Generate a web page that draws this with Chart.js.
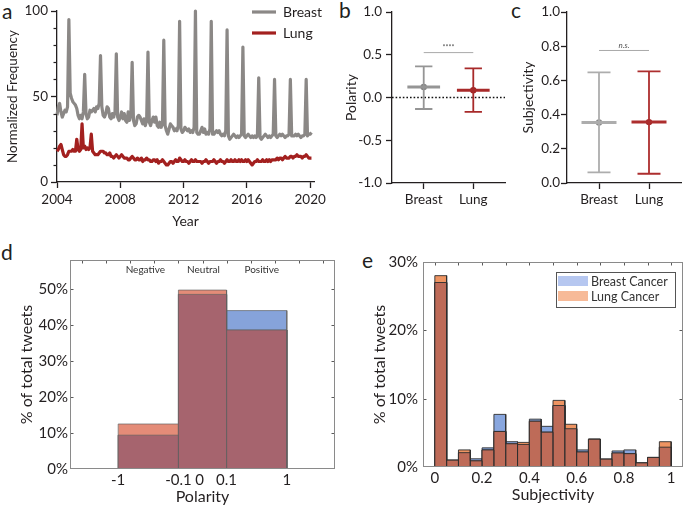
<!DOCTYPE html>
<html><head><meta charset="utf-8">
<script src="https://cdn.jsdelivr.net/npm/chart.js@4.4.1/dist/chart.umd.min.js"></script>
<style>
html,body{margin:0;padding:0;background:#fff;}
body{width:685px;height:505px;position:relative;overflow:hidden;font-family:Lato,sans-serif;}
canvas{position:absolute;}
.L{position:absolute;font:21px/1 Lato,sans-serif;color:#231f20;}
</style></head><body>
<div class="L" style="left:2px;top:0px">a</div>
<div class="L" style="left:339px;top:-1px">b</div>
<div class="L" style="left:511px;top:-1px">c</div>
<div class="L" style="left:1px;top:241px">d</div>
<div class="L" style="left:362px;top:249px">e</div>
<canvas id="ca" width="330" height="235" style="left:0;top:0"></canvas>
<canvas id="cb" width="190" height="215" style="left:320px;top:0"></canvas>
<canvas id="cc" width="175" height="215" style="left:510px;top:0"></canvas>
<canvas id="cd" width="340" height="261" style="left:0;top:245px"></canvas>
<canvas id="ce" width="345" height="261" style="left:340px;top:245px"></canvas>
<script>
// ---------------- DATA ----------------
// panel a: monthly normalized search frequency, Jan 2004 - Feb 2020
const startYear = 2004;
const yearTicks = [2004, 2008, 2012, 2016, 2020];
const freqTicks = [0, 50, 100];
const freqMinor = [10, 20, 30, 40, 60, 70, 80, 90];
const breastFreq = [
 39,44,46,41,38,40,42,41,44,95,52,49,
 47,46,45,43,39,37,39,37,41,63,40,37,
 38,42,41,42,43,41,44,43,46,74,44,39,
 38,40,44,43,38,37,40,38,41,75,38,36,
 38,41,37,40,36,35,41,36,39,70,36,33,
 34,38,39,38,36,34,37,33,36,76,35,33,
 36,38,35,38,33,32,35,32,34,83,33,30,
 28,31,34,33,32,30,31,30,33,94,31,29,
 30,32,31,30,31,29,30,29,32,100,29,28,
 28,30,32,29,31,28,29,28,31,94,28,28,
 29,30,29,30,28,27,28,27,30,89,27,25,
 26,27,28,27,26,27,26,27,28,79,27,26,
 27,28,27,26,27,26,27,26,27,61,26,25,
 26,27,28,27,26,27,26,27,28,60,27,26,
 27,28,27,28,27,26,27,27,28,60,27,27,
 27,28,27,28,27,26,27,27,28,60,27,28,
 28,29];
const lungFreq = [
 18,19,21,22,19,16,15,15,16,18,18,18,
 19,18,18,25,19,18,19,34,20,21,19,20,
 19,20,28,18,17,16,16,16,17,18,18,18,
 17,17,16,16,17,15,15,14,15,16,15,14,
 15,16,15,14,14,14,13,13,14,15,14,13,
 13,14,13,13,14,12,13,13,14,13,13,12,
 12,13,13,12,13,11,12,12,13,12,11,10,
 10,11,12,12,11,12,13,12,12,14,13,12,
 12,13,12,12,11,12,13,12,12,13,12,12,
 12,12,11,12,12,13,12,11,12,12,12,13,
 12,11,12,12,13,12,12,11,12,13,12,12,
 13,12,12,13,12,12,13,12,13,12,12,13,
 12,13,12,11,10,11,12,12,13,12,12,12,
 13,12,12,13,12,13,12,13,13,13,13,14,
 13,14,14,13,14,15,14,14,14,15,15,14,
 15,15,16,15,15,15,14,15,15,16,15,14,
 14,14];

// panels b, c: mean and SD range
const groups = ['Breast', 'Lung'];
const polMean = [0.123, 0.085];
const polHi = [0.365, 0.342];
const polLo = [-0.134, -0.168];
const polTicks = [-1, -0.5, 0, 0.5, 1];
const polSigLevel = 0.526;
const polSigText = '****';
const subMean = [0.354, 0.356];
const subHi = [0.647, 0.653];
const subLo = [0.062, 0.054];
const subTicks = [0, 0.2, 0.4, 0.6, 0.8, 1];
const subSigLevel = 0.775;
const subSigText = 'n.s.';

// panel d: polarity histogram (%)
const polBins = ['Negative', 'Neutral', 'Positive'];
const polEdgePos = [0, 1, 1.8, 2.8];          // bin edges on the display axis
const polTickPos = [0, 1, 1.35, 1.8, 2.8];
const polTickLabels = ['-1', '-0.1', '0', '0.1', '1'];
const polTopTicks = [-0.6, -0.2, 0.2, 0.6, 1.0, 1.4, 1.8, 2.2, 2.6, 3.0, 3.4];
const breastPol = [9.4, 48.5, 44.0];
const lungPol = [12.5, 49.7, 38.6];
const pctTicksD = [0, 10, 20, 30, 40, 50];

// panel e: subjectivity histogram (%)
const subEdges = [0,0.05,0.1,0.15,0.2,0.25,0.3,0.35,0.4,0.45,0.5,0.55,0.6,0.65,0.7,0.75,0.8,0.85,0.9,0.95,1];
const breastSub = [27.0,1.0,2.1,1.2,2.8,7.7,3.7,3.3,7.0,5.95,9.0,5.6,2.5,4.05,1.15,2.35,2.5,0.6,1.4,2.9];
const lungSub   = [28.0,1.0,2.5,0.9,2.5,5.2,3.4,3.6,6.7,5.1,9.75,6.25,2.2,4.1,1.15,2.05,1.95,0.6,1.4,3.7];
const subTickVals = [0, 0.2, 0.4, 0.6, 0.8, 1];
const subTopTicks = [0,0.1,0.2,0.3,0.4,0.5,0.6,0.7,0.8,0.9,1];
const pctTicksE = [0, 10, 20, 30];

// ---------------- HELPERS ----------------
const F = 'Lato';
const INK = '#231f20';
Chart.defaults.font.family = F;
Chart.defaults.color = INK;

const fixTicks = vals => s => { s.ticks = vals.map(v => ({value: v})); };

const tickMarks = {
  id: 'tickMarks',
  afterDraw(chart, args, o) {
    const {ctx, chartArea: a, scales} = chart;
    ctx.save();
    ctx.strokeStyle = o.color; ctx.lineWidth = o.width || 1;
    (o.marks || []).forEach(m => {
      const s = scales[m.axis];
      m.values.forEach(v => {
        let p = Math.round(s.getPixelForValue(v)) + 0.5;
        ctx.beginPath();
        if (m.side === 'left') { ctx.moveTo(a.left, p); ctx.lineTo(a.left + m.len, p); }
        if (m.side === 'right') { ctx.moveTo(a.right, p); ctx.lineTo(a.right - m.len, p); }
        if (m.side === 'top') { ctx.moveTo(p, a.top); ctx.lineTo(p, a.top + m.len); }
        if (m.side === 'bottom') { ctx.moveTo(p, a.bottom); ctx.lineTo(p, a.bottom - m.len); }
        ctx.stroke();
      });
    });
    if (o.frame) {
      ctx.strokeStyle = o.frame;
      ctx.strokeRect(a.left + 0.5, a.top + 0.5, a.right - a.left - 1, a.bottom - a.top - 1);
    }
    ctx.restore();
  }
};

const lineLegend = {
  id: 'lineLegend',
  afterDraw(chart, args, o) {
    const ctx = chart.ctx;
    ctx.save();
    chart.data.datasets.forEach((d, i) => {
      const y = o.ys[i];
      ctx.strokeStyle = d.borderColor; ctx.lineWidth = d.borderWidth;
      ctx.beginPath(); ctx.moveTo(o.x1, y); ctx.lineTo(o.x2, y); ctx.stroke();
      ctx.fillStyle = INK; ctx.font = o.font; ctx.textBaseline = 'middle';
      ctx.fillText(d.label, o.tx, y + 0.5);
    });
    ctx.restore();
  }
};

const boxLegend = {
  id: 'boxLegend',
  afterDraw(chart, args, o) {
    const ctx = chart.ctx;
    ctx.save();
    ctx.fillStyle = '#fff';
    ctx.fillRect(o.left, o.top, o.w, o.h);
    ctx.strokeStyle = o.border; ctx.lineWidth = 1;
    ctx.strokeRect(o.left + 0.5, o.top + 0.5, o.w, o.h);
    const items = chart.data.datasets.filter(d => d.legendColor).sort((a, b) => a.legendIndex - b.legendIndex);
    items.forEach((d, i) => {
      const y = o.rows[i];
      ctx.fillStyle = d.legendColor;
      ctx.fillRect(o.sx, y - o.sh / 2, o.sw, o.sh);
      ctx.fillStyle = '#333'; ctx.font = o.font; ctx.textBaseline = 'middle';
      ctx.fillText(d.label, o.tx, y + 0.5);
    });
    ctx.restore();
  }
};

const sigText = {
  id: 'sigText',
  afterDatasetsDraw(chart, args, o) {
    const {ctx, scales: {x, y}} = chart;
    ctx.save();
    ctx.font = o.font; ctx.fillStyle = o.color; ctx.textAlign = 'center'; ctx.textBaseline = 'bottom';
    ctx.fillText(o.text, x.getPixelForValue(o.x), y.getPixelForValue(o.y) + o.dy);
    ctx.restore();
  }
};

const binLabels = {
  id: 'binLabels',
  afterDraw(chart, args, o) {
    const {ctx, scales: {x}, chartArea: a} = chart;
    ctx.save();
    ctx.font = o.font; ctx.fillStyle = '#333'; ctx.textAlign = 'center'; ctx.textBaseline = 'middle';
    o.labels.forEach((t, i) => {
      const c = (o.edges[i] + o.edges[i + 1]) / 2;
      ctx.fillText(t, x.getPixelForValue(c) + (o.shift ? o.shift[i] : 0), a.top + o.dy);
    });
    ctx.restore();
  }
};

function histPts(edges, vals) {
  const pts = [];
  vals.forEach((v, i) => {
    pts.push({x: edges[i], y: 0}, {x: edges[i], y: v}, {x: edges[i + 1], y: v}, {x: edges[i + 1], y: 0});
  });
  return pts;
}
const minOf = (a, b) => a.map((v, i) => Math.min(v, b[i]));

function errSets(xs, mean, lo, hi, colors, dots, capHalf, meanHalf, wW) {
  const sets = [];
  xs.forEach((x, i) => {
    sets.push({
      data: [{x: x - capHalf, y: hi[i]}, {x: x + capHalf, y: hi[i]}, {x: x, y: null},
             {x: x, y: hi[i]}, {x: x, y: lo[i]}, {x: x, y: null},
             {x: x - capHalf, y: lo[i]}, {x: x + capHalf, y: lo[i]}],
      borderColor: colors[i], borderWidth: wW, pointRadius: 0, spanGaps: false, clip: false
    });
    sets.push({
      data: [{x: x - meanHalf, y: mean[i]}, {x: x + meanHalf, y: mean[i]}],
      borderColor: colors[i], borderWidth: 3, pointRadius: 0, clip: false
    });
    sets.push({
      data: [{x: x, y: mean[i]}], showLine: false, pointRadius: 3.2, pointBorderWidth: 0,
      pointBackgroundColor: dots[i], borderColor: dots[i], clip: false
    });
  });
  return sets;
}

const common = {responsive: false, animation: false, events: []};

// ---------------- PANEL A ----------------
const toPts = arr => arr.map((v, i) => ({x: startYear + i / 12, y: v}));
new Chart(document.getElementById('ca'), {
  type: 'line',
  data: {datasets: [
    {label: 'Breast', data: toPts(breastFreq), borderColor: '#8b8886', borderWidth: 3.2, pointRadius: 0, tension: 0, clip: false, borderJoinStyle: 'round'},
    {label: 'Lung', data: toPts(lungFreq), borderColor: '#a3201f', borderWidth: 3.2, pointRadius: 0, tension: 0, clip: false, borderJoinStyle: 'round'}
  ]},
  options: Object.assign({}, common, {
    layout: {padding: {left: 0, top: 11, right: 13, bottom: 0}},
    plugins: {
      legend: {display: false}, tooltip: {enabled: false},
      lineLegend: {x1: 252, x2: 276, tx: 283, ys: [12, 33], font: '14px Lato'},
      tickMarks: {color: INK, width: 1.2, marks: [{axis: 'y', side: 'left', values: freqMinor, len: -3.5}]}
    },
    scales: {
      x: {type: 'linear', min: 2004, max: 2020.25, afterBuildTicks: fixTicks(yearTicks),
          ticks: {autoSkip: false, maxRotation: 0, padding: 4, font: {size: 13.5}, color: INK, callback: v => String(v)},
          grid: {drawOnChartArea: false, tickLength: 6, tickColor: INK, tickWidth: 1.3},
          border: {color: INK, width: 1.3},
          title: {display: true, text: 'Year', font: {size: 14}, color: INK, padding: {top: 0, bottom: 5}},
          afterFit: s => { s.height = 53; }},
      y: {min: 0, max: 100, afterBuildTicks: fixTicks(freqTicks),
          ticks: {autoSkip: false, padding: 3, font: {size: 13.5}, color: INK},
          grid: {drawOnChartArea: false, tickLength: 6, tickColor: INK, tickWidth: 1.3},
          border: {color: INK, width: 1.3},
          title: {display: true, text: 'Normalized Frequency', font: {size: 13.5}, color: INK, padding: {top: 5, bottom: 0}},
          afterFit: s => { s.width = 57; }}
    }
  }),
  plugins: [lineLegend, tickMarks]
});

// ---------------- PANELS B & C ----------------
function meanChart(id, opt) {
  const xs = [1, 2];
  const sets = errSets(xs, opt.mean, opt.lo, opt.hi, opt.colors, opt.dots, opt.capHalf, opt.meanHalf, 1.8);
  sets.push({data: [{x: 1, y: opt.sig}, {x: 2, y: opt.sig}], borderColor: '#a9a9a9', borderWidth: 1, pointRadius: 0, clip: false});
  if (opt.zero) sets.push({data: [{x: 0.36, y: 0}, {x: 2.64, y: 0}], borderColor: '#111', borderWidth: 1.6, borderDash: [1.6, 2], pointRadius: 0});
  new Chart(document.getElementById(id), {
    type: 'line',
    data: {datasets: sets},
    options: Object.assign({}, common, {
      layout: {padding: {left: 0, top: opt.top, right: opt.right, bottom: 0}},
      plugins: {legend: {display: false}, tooltip: {enabled: false},
        sigText: {x: 1.5, y: opt.sig, dy: opt.sigDy, text: opt.sigText, font: opt.sigFont, color: '#555'}},
      scales: {
        x: {type: 'linear', min: 0.36, max: 2.64, afterBuildTicks: fixTicks(xs),
            ticks: {autoSkip: false, maxRotation: 0, padding: 3, font: {size: 13.5}, color: INK, callback: (v, i) => groups[i]},
            grid: {drawOnChartArea: false, tickLength: 6, tickColor: INK, tickWidth: 1.3},
            border: {color: INK, width: 1.3},
            afterFit: s => { s.height = 32; }},
        y: {min: opt.ymin, max: opt.ymax, afterBuildTicks: fixTicks(opt.ticks),
            ticks: {autoSkip: false, padding: opt.tpad, font: {size: 13.5}, color: INK, callback: v => v.toFixed(1)},
            grid: {drawOnChartArea: false, tickLength: 6, tickColor: INK, tickWidth: 1.3},
            border: {color: INK, width: 1.3},
            title: {display: true, text: opt.title, font: {size: 14}, color: INK, padding: {top: opt.titlePad, bottom: 0}},
            afterFit: s => { s.width = opt.yw; }}
      }
    }),
    plugins: [sigText]
  });
}
meanChart('cb', {mean: polMean, lo: polLo, hi: polHi, colors: ['#959595', '#a82a2a'], dots: ['#7f7f7f', '#9e2020'], capHalf: 0.175, meanHalf: 0.33,
  sig: polSigLevel, sigText: polSigText, sigFont: '7px Lato', sigDy: -1, zero: true,
  ymin: -1, ymax: 1, ticks: polTicks, title: 'Polarity', titlePad: 23, yw: 72, top: 12, right: 5, tpad: 4});
meanChart('cc', {mean: subMean, lo: subLo, hi: subHi, colors: ['#adadad', '#ad2e2e'], dots: ['#8a8a8a', '#a02424'], capHalf: 0.23, meanHalf: 0.35,
  sig: subSigLevel, sigText: subSigText, sigFont: 'italic 8px Lato', sigDy: -1, zero: false,
  ymin: 0, ymax: 1, ticks: subTicks, title: 'Subjectivity', titlePad: 10.5, yw: 57, top: 12, right: 3, tpad: 1});

// ---------------- PANELS D & E ----------------
function histChart(id, opt) {
  const overlap = minOf(opt.b, opt.l);
  const sets = [
    {label: 'Breast Cancer', data: histPts(opt.edges, opt.b), backgroundColor: opt.cb, borderColor: opt.edge, borderWidth: opt.ew,
     fill: 'origin', pointRadius: 0, tension: 0, order: 3, legendColor: opt.lb, legendIndex: 0},
    {label: 'Lung Cancer', data: histPts(opt.edges, opt.l), backgroundColor: opt.cl, borderColor: opt.edge, borderWidth: opt.ew,
     fill: 'origin', pointRadius: 0, tension: 0, order: 2, legendColor: opt.ll, legendIndex: 1},
    {label: 'overlap', data: histPts(opt.edges, overlap), backgroundColor: opt.co, borderColor: opt.edge, borderWidth: opt.ew,
     fill: 'origin', pointRadius: 0, tension: 0, order: 1}
  ];
  new Chart(document.getElementById(id), {
    type: 'line',
    data: {datasets: sets},
    options: Object.assign({}, common, {
      layout: {padding: {left: 0, top: opt.top, right: opt.right, bottom: 0}},
      plugins: {legend: {display: false}, tooltip: {enabled: false},
        boxLegend: opt.legend, binLabels: opt.binLabels || {labels: [], edges: []},
        tickMarks: {color: '#5a5a5a', width: 1, frame: '#8a8a8a', marks: opt.marks}},
      scales: {
        x: {type: 'linear', min: opt.xmin, max: opt.xmax, afterBuildTicks: fixTicks(opt.xticks),
            ticks: {autoSkip: false, maxRotation: 0, padding: opt.xpad, font: {size: 15}, color: INK, callback: (v, i) => opt.xlabels[i]},
            grid: {display: false, drawTicks: false}, border: {display: false},
            title: {display: true, text: opt.xtitle, font: {size: 16}, color: INK, padding: {top: 0, bottom: opt.xtb}},
            afterFit: s => { s.height = opt.xh; }},
        y: {min: 0, max: opt.ymax, afterBuildTicks: fixTicks(opt.yticks),
            ticks: {autoSkip: false, padding: opt.ypad, font: {size: 15}, color: INK, callback: v => v + '%'},
            grid: {display: false, drawTicks: false}, border: {display: false},
            title: {display: true, text: '% of total tweets', font: {size: 16}, color: INK, padding: {top: opt.ytp, bottom: 0}},
            afterFit: s => { s.width = opt.yw; }}
      }
    }),
    plugins: [tickMarks, binLabels, boxLegend]
  });
}

histChart('cd', {
  edges: polEdgePos, b: breastPol, l: lungPol,
  cb: 'rgb(134,163,218)', cl: 'rgb(228,140,120)', co: 'rgb(166,100,110)', edge: 'rgba(95,95,95,0.85)', ew: 0.8,
  lb: 'rgb(186,199,238)', ll: 'rgb(247,192,168)',
  xmin: -0.8, xmax: 3.6, xticks: polTickPos, xlabels: polTickLabels, xtitle: 'Polarity', xpad: 2, xtb: 0, xh: 37,
  ymax: 58.05, yticks: pctTicksD, ypad: 2, ytp: 17, yw: 70, top: 15, right: 5,
  legend: {left: 75, top: 283, w: 95, h: 31, border: '#555', sx: 77, sw: 26, sh: 10, tx: 107, rows: [291.5, 306], font: '10.5px Lato'},
  binLabels: {labels: polBins, edges: polEdgePos, dy: 10, font: '10px Lato', shift: [-3, 1, 5]},
  marks: [
    {axis: 'y', side: 'left', values: pctTicksD.slice(1), len: 3.5},
    {axis: 'y', side: 'right', values: pctTicksD.slice(1), len: 3.5},
    {axis: 'x', side: 'top', values: polTopTicks, len: 3.5}
  ]
});

histChart('ce', {
  edges: subEdges, b: breastSub, l: lungSub,
  cb: 'rgb(136,166,222)', cl: 'rgb(238,148,98)', co: 'rgb(190,107,88)', edge: 'rgba(45,45,45,0.9)', ew: 1,
  lb: 'rgb(182,199,240)', ll: 'rgb(247,186,152)',
  xmin: -0.05, xmax: 1.05, xticks: subTickVals, xlabels: subTickVals.map(String), xtitle: 'Subjectivity', xpad: 2, xtb: 1.5, xh: 39,
  ymax: 30, yticks: pctTicksE, ypad: 5, ytp: 30, yw: 83, top: 17, right: 2,
  legend: {left: 216, top: 27, w: 119, h: 35, border: '#555', sx: 218, sw: 30, sh: 10, tx: 251, rows: [36, 51], font: '12.5px Lato'},
  marks: [
    {axis: 'y', side: 'left', values: [10, 20], len: 3.5},
    {axis: 'y', side: 'right', values: [10, 20], len: 3.5},
    {axis: 'x', side: 'top', values: subTopTicks, len: 3.5}
  ]
});
</script>
</body></html>
